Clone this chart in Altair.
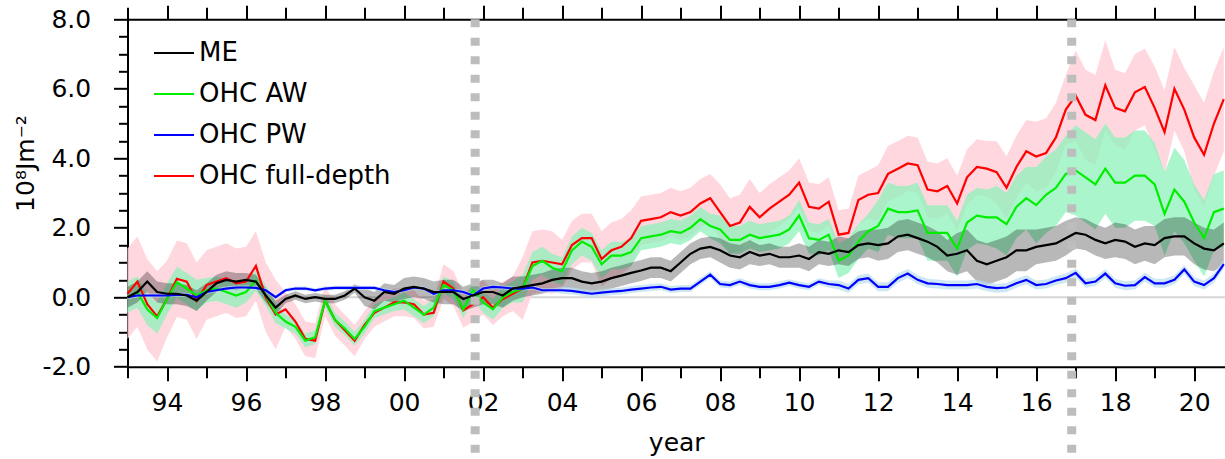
import altair as alt
import pandas as pd

# ---------------- data ----------------
# quarterly sample times 1993.00 ... 2020.75
times = [1993 + 0.25 * i for i in range(112)]

full_depth = [
    0.10, 0.45, -0.20, -0.55,   -0.05, 0.53, 0.45, -0.10,   0.35, 0.45, 0.55, 0.40,
    0.45, 0.90, 0.00, -0.50,   -0.35, -0.70, -1.20, -1.25,  -0.10, -0.65, -0.95, -1.25,
    -0.80, -0.45, -0.30, -0.15, -0.15, -0.20, -0.50, -0.45,  0.45, 0.25, -0.38, -0.20,
    0.00, -0.30, -0.05, 0.10,   0.25, 1.00, 1.05, 1.00,     0.95, 1.50, 1.70, 1.70,
    1.10, 1.35, 1.45, 1.70,     2.20, 2.25, 2.30, 2.45,     2.35, 2.45, 2.70, 2.85,
    2.45, 2.05, 2.15, 2.60,     2.30, 2.55, 2.75, 2.95,     3.30, 2.60, 2.55, 2.75,
    1.80, 1.85, 2.80, 2.95,     3.00, 3.55, 3.70, 3.85,     3.80, 3.10, 3.05, 3.20,
    2.70, 3.45, 3.75, 3.70,     3.60, 3.15, 3.75, 4.20,     4.05, 4.15, 4.60, 5.40,
    5.80, 5.25, 5.10, 6.10,     5.45, 5.35, 5.90, 6.05,     5.45, 4.75, 6.00, 5.40,
    4.60, 4.10, 5.00, 5.70,
]
ohc_aw = [
    0.00, 0.15, -0.35, -0.60,   -0.05, 0.43, 0.25, 0.05,    0.20, 0.25, 0.15, 0.05,
    0.15, 0.48, 0.05, -0.45,   -0.70, -0.85, -1.25, -1.15,  -0.10, -0.65, -0.90, -1.20,
    -0.85, -0.40, -0.30, -0.20, -0.10, -0.30, -0.50, -0.30,  0.35, 0.20, -0.35, 0.20,
    -0.15, -0.35, 0.00, 0.15,   0.25, 0.90, 1.05, 0.85,     0.75, 1.35, 1.60, 1.45,
    0.95, 1.20, 1.20, 1.30,     1.70, 1.75, 1.80, 1.90,     1.85, 2.00, 2.25, 2.05,
    1.95, 1.65, 1.65, 1.80,     1.70, 1.75, 1.80, 1.95,     2.35, 1.70, 1.65, 1.80,
    1.05, 1.20, 1.60, 1.90,     2.05, 2.55, 2.45, 2.45,     2.50, 1.85, 1.85, 1.85,
    1.40, 2.15, 2.35, 2.30,     2.30, 2.10, 2.60, 2.85,     2.65, 2.95, 3.15, 3.55,
    3.65, 3.45, 3.25, 3.70,     3.30, 3.30, 3.50, 3.50,     3.25, 2.40, 3.10, 2.75,
    2.15, 1.70, 2.45, 2.55,
]
me = [
    0.00, 0.15, 0.45, 0.15,     0.10, 0.10, 0.05, -0.10,    0.15, 0.40, 0.50, 0.45,
    0.50, 0.45, 0.05, -0.30,   -0.05, 0.05, -0.05, 0.00,   -0.05, -0.05, 0.05, 0.25,
    0.00, -0.10, 0.15, 0.10,    0.25, 0.30, 0.25, 0.15,     0.15, 0.15, -0.05, 0.05,
    0.15, 0.15, 0.05, 0.25,     0.30, 0.35, 0.40, 0.50,     0.55, 0.55, 0.45, 0.40,
    0.45, 0.55, 0.62, 0.70,     0.77, 0.85, 0.85, 0.75,     1.00, 1.25, 1.40, 1.45,
    1.35, 1.20, 1.15, 1.30,     1.20, 1.25, 1.15, 1.15,     1.20, 1.10, 1.30, 1.25,
    1.35, 1.30, 1.50, 1.55,     1.50, 1.55, 1.75, 1.80,     1.70, 1.60, 1.45, 1.20,
    1.25, 1.35, 1.05, 0.95,     1.05, 1.15, 1.35, 1.35,     1.45, 1.50, 1.55, 1.70,
    1.85, 1.80, 1.65, 1.55,     1.65, 1.60, 1.45, 1.55,     1.50, 1.70, 1.75, 1.75,
    1.55, 1.40, 1.35, 1.55,
]
ohc_pw = [
    0.00, 0.05, 0.05, 0.05,     0.05, 0.07, 0.07, 0.00,     0.15, 0.20, 0.25, 0.28,
    0.28, 0.27, 0.20, 0.00,     0.20, 0.25, 0.25, 0.20,     0.25, 0.27, 0.27, 0.27,
    0.27, 0.27, 0.20, 0.15,     0.20, 0.28, 0.25, 0.10,     0.20, 0.20, 0.15, 0.05,
    0.25, 0.30, 0.28, 0.25,     0.25, 0.28, 0.20, 0.20,     0.20, 0.18, 0.14, 0.10,
    0.13, 0.16, 0.18, 0.22,     0.25, 0.28, 0.30, 0.22,     0.25, 0.25, 0.45, 0.65,
    0.38, 0.35, 0.45, 0.35,     0.30, 0.30, 0.35, 0.42,     0.35, 0.30, 0.45, 0.38,
    0.35, 0.25, 0.50, 0.55,     0.30, 0.30, 0.55, 0.68,     0.50, 0.40, 0.38, 0.35,
    0.35, 0.35, 0.38, 0.30,     0.26, 0.28, 0.40, 0.50,     0.35, 0.38, 0.48, 0.55,
    0.70, 0.40, 0.45, 0.68,     0.40, 0.33, 0.35, 0.58,     0.40, 0.40, 0.50, 0.80,
    0.45, 0.35, 0.55, 0.95,
]

# half-width of the uncertainty bands, one value per year 1993 ... 2020
band_years = list(range(1993, 2021))
full_hw = [1.3, 1.1, 1.0, 1.0, 0.5, 0.45, 0.4, 0.4, 0.5, 0.5, 0.9, 0.7, 0.8, 0.7,
           0.7, 0.8, 0.7, 0.7, 0.7, 0.8, 0.8, 0.8, 0.9, 1.0, 1.3, 1.1, 1.2, 1.5]
aw_hw = [0.45, 0.45, 0.35, 0.3, 0.2, 0.2, 0.2, 0.25, 0.25, 0.3, 0.4, 0.4, 0.4, 0.35,
         0.35, 0.4, 0.4, 0.45, 0.5, 0.75, 0.8, 0.8, 0.9, 1.1, 1.3, 1.3, 1.2, 1.1]
me_hw = [0.3, 0.3, 0.25, 0.2, 0.12, 0.12, 0.25, 0.3, 0.35, 0.35, 0.3, 0.3, 0.3, 0.3,
         0.3, 0.35, 0.3, 0.35, 0.4, 0.45, 0.45, 0.6, 0.6, 0.5, 0.45, 0.5, 0.55, 0.6]
pw_hw = [0.06, 0.06, 0.06, 0.06, 0.06, 0.06, 0.06, 0.06, 0.06, 0.06, 0.06, 0.1, 0.1, 0.1,
         0.1, 0.1, 0.1, 0.1, 0.13, 0.13, 0.13, 0.13, 0.13, 0.13, 0.13, 0.13, 0.13, 0.13]

event_years = [2001.8, 2016.9]
zero_level = [0.0]

series_names = ["ME", "OHC AW", "OHC PW", "OHC full-depth"]
line_colors = ["#000000", "#00ee00", "#0000ff", "#ff0000"]

x_major = list(range(1994, 2021, 2))
x_minor = list(range(1993, 2021, 2))
y_major = [-2, 0, 2, 4, 6, 8]
y_minor = [-1.5, -1, -0.5, 0.5, 1, 1.5, 2.5, 3, 3.5, 4.5, 5, 5.5, 6.5, 7, 7.5]

# ---------------- table ----------------
rows = []
for name, vals, hws in [("ME", me, me_hw), ("OHC AW", ohc_aw, aw_hw),
                        ("OHC PW", ohc_pw, pw_hw), ("OHC full-depth", full_depth, full_hw)]:
    for t, v in zip(times, vals):
        hw = hws[band_years.index(int(t))]
        rows.append({"series": name, "t": t, "v": v, "lo": v - hw, "hi": v + hw})
df = pd.DataFrame(rows)
ev = pd.DataFrame({"t": event_years})
zl = pd.DataFrame({"z": zero_level})

FONT = "DejaVu Sans"
W, H = 1097.5, 347.4
xs = alt.Scale(domain=[1993, 2020.78], nice=False, zero=False)
ys = alt.Scale(domain=[-2, 8], nice=False, zero=False)

zero_rule = alt.Chart(zl).mark_rule(color="#d6d6d6", strokeWidth=2).encode(
    y=alt.Y("z:Q", scale=ys, axis=None), x=alt.value(0), x2=alt.value(W))


def band(name, color, opacity):
    return alt.Chart(df).transform_filter(alt.datum.series == name).mark_area(
        color=color, opacity=opacity).encode(
        x=alt.X("t:Q", scale=xs, axis=None),
        y=alt.Y("lo:Q", scale=ys, axis=None),
        y2="hi:Q")


legend = alt.Legend(title=None, orient="none", legendX=25.5, legendY=12.7,
                    symbolType="stroke", symbolSize=1600, symbolStrokeWidth=2,
                    labelFont=FONT, labelFontSize=26, labelColor="black",
                    labelOffset=4, rowPadding=7, padding=0, labelLimit=400)


def line(name):
    return alt.Chart(df).transform_filter(alt.datum.series == name).mark_line(
        strokeWidth=2.2).encode(
        x=alt.X("t:Q", scale=xs, axis=None),
        y=alt.Y("v:Q", scale=ys, axis=None),
        color=alt.Color("series:N", scale=alt.Scale(domain=series_names, range=line_colors),
                        legend=legend))


x_label_expr = "(datum.value % 100) < 10 ? '0' + (datum.value % 100) : '' + (datum.value % 100)"
y_label_expr = "replace(format(datum.value, '.1f'), '\u2212', '-')"

axis_main = alt.Chart(df).mark_point(opacity=0).encode(
    x=alt.X("t:Q", scale=xs, axis=alt.Axis(
        orient="bottom", values=x_major, tickSize=14, labelExpr=x_label_expr,
        labelPadding=10, title="year", titleY=83.3, titleBaseline="alphabetic",
        titleAlign="center")),
    y=alt.Y("v:Q", scale=ys, axis=alt.Axis(
        orient="left", values=y_major, labelExpr=y_label_expr, tickSize=14, labelPadding=22.8,
        title="10⁸Jm⁻²", titleAngle=270, titleX=-94.2, titleY=143.7,
        titleBaseline="alphabetic", titleAlign="center", titleFontSize=25)))

axis_minor = alt.Chart(df).mark_point(opacity=0).encode(
    x=alt.X("t:Q", scale=xs, axis=alt.Axis(
        orient="bottom", values=x_minor, tickSize=11, labels=False, domain=False, title=None)),
    y=alt.Y("v:Q", scale=ys, axis=alt.Axis(
        orient="left", values=y_minor, tickSize=9, labels=False, domain=False, title=None)))

axis_top = alt.Chart(df).mark_point(opacity=0).encode(
    x=alt.X("t:Q", scale=xs, axis=alt.Axis(
        orient="top", values=x_major, tickSize=14, labels=False, title=None)),
    y=alt.Y("v:Q", scale=ys, axis=None))

axis_top_minor = alt.Chart(df).mark_point(opacity=0).encode(
    x=alt.X("t:Q", scale=xs, axis=alt.Axis(
        orient="top", values=x_minor, tickSize=12, labels=False, domain=False, title=None)),
    y=alt.Y("v:Q", scale=ys, axis=None))

events = alt.Chart(ev).mark_rule(color="#bdbdbd", strokeWidth=9, strokeDash=[8, 10.5]).encode(
    x=alt.X("t:Q", scale=xs, axis=None), y=alt.value(0), y2=alt.value(440))

chart = alt.layer(
    zero_rule,
    band("OHC full-depth", "#ffd3da", 0.9),
    band("OHC AW", "#8ff2bb", 0.75),
    band("ME", "#000000", 0.28),
    band("OHC PW", "#b9ddf0", 0.7),
    line("OHC full-depth"),
    line("OHC AW"),
    line("OHC PW"),
    line("ME"),
    axis_main, axis_minor, axis_top, axis_top_minor,
    events,
).resolve_axis(x="independent", y="independent").properties(
    width=W, height=H,
    padding={"left": 127.5, "top": 19.3, "right": 0, "bottom": 92.3},
    autosize=alt.AutoSizeParams(type="none"),
).configure_view(stroke=None).configure_axis(
    domainColor="black", domainWidth=2, tickColor="black", tickWidth=2,
    labelFont=FONT, labelFontSize=25, labelColor="black",
    titleFont=FONT, titleFontSize=25, titleColor="black", titleFontWeight="normal",
    grid=False)

chart.save("out.html", embed_options={"renderer": "svg", "actions": False})
